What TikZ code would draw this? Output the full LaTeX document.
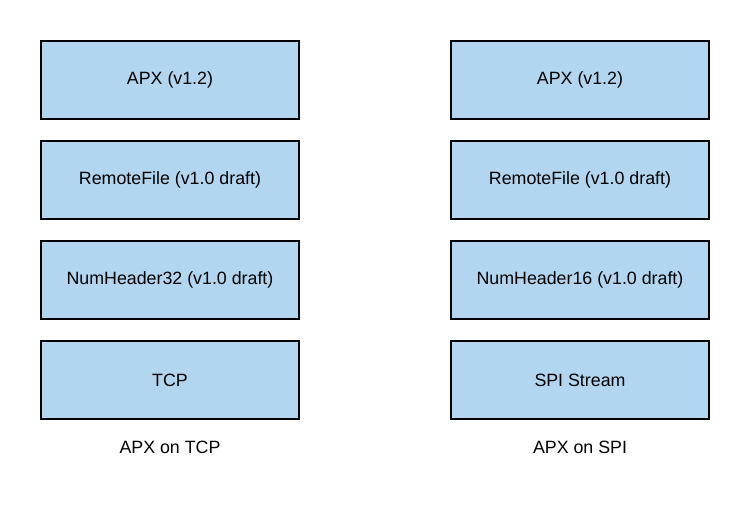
\documentclass[tikz,border=0pt]{standalone}
\usepackage{fontspec}
\setmainfont{Liberation Sans}
\definecolor{boxfill}{RGB}{178,214,239}
\tikzset{
  layer/.style={draw=black, line width=2pt, fill=boxfill, minimum width=258pt, minimum height=78pt, inner sep=0pt, font=\fontsize{17.8}{20}\selectfont},
  caption/.style={font=\fontsize{17.8}{20}\selectfont, inner sep=0pt}
}
\begin{document}
\begin{tikzpicture}[x=1pt,y=-1pt]
\useasboundingbox (0,0) rectangle (750,520);
\node[layer] (l1) at (170,80) {APX (v1.2)};
\node[layer] (l2) at (170,180) {RemoteFile (v1.0 draft)};
\node[layer] (l3) at (170,280) {NumHeader32 (v1.0 draft)};
\node[layer] (l4) at (170,380) {TCP};
\node[caption] (lc) at (170,447) {APX on TCP};
\node[layer] (r1) at (580,80) {APX (v1.2)};
\node[layer] (r2) at (580,180) {RemoteFile (v1.0 draft)};
\node[layer] (r3) at (580,280) {NumHeader16 (v1.0 draft)};
\node[layer] (r4) at (580,380) {SPI Stream};
\node[caption] (rc) at (580,447) {APX on SPI};
\end{tikzpicture}
\end{document}
